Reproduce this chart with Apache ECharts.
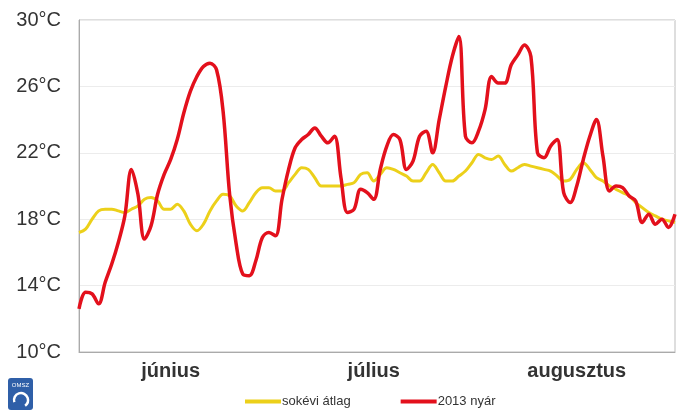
<!DOCTYPE html>
<html>
<head>
<meta charset="utf-8">
<script src="https://cdn.jsdelivr.net/npm/echarts@6/dist/echarts.min.js"></script>
<style>
  html, body { margin: 0; padding: 0; background: #fff; }
  #chart { width: 677px; height: 414px; }
</style>
</head>
<body>
<div id="chart"></div>
<script>
// napok: június 1 - augusztus 31 (92 nap)
var days = [];
for (var d = 0; d < 92; d++) days.push(String(d));

// hónapnevek a hónapok közepén
var monthLabels = { 14: 'június', 45: 'július', 76: 'augusztus' };

var yTicks = [10, 14, 18, 22, 26, 30];

// sokévi átlag
var avgTemp = [
  17.2, 17.4, 18.0, 18.5, 18.6, 18.6, 18.5, 18.4, 18.6, 18.8,
  19.2, 19.3, 19.1, 18.6, 18.6, 18.9, 18.5, 17.7, 17.3, 17.7,
  18.5, 19.1, 19.5, 19.4, 18.8, 18.5, 19.0, 19.6, 19.9, 19.9,
  19.7, 19.7, 20.2, 20.7, 21.1, 21.0, 20.5, 20.0, 20.0, 20.0,
  20.0, 20.1, 20.2, 20.7, 20.8, 20.3, 20.7, 21.1, 21.0, 20.8,
  20.6, 20.3, 20.3, 20.8, 21.3, 20.8, 20.3, 20.3, 20.6, 20.9,
  21.4, 21.9, 21.7, 21.6, 21.8, 21.3, 20.9, 21.1, 21.3, 21.2,
  21.1, 21.0, 20.9, 20.6, 20.3, 20.4, 21.0, 21.4, 21.0, 20.5,
  20.3, 20.0, 19.8, 19.6, 19.4, 19.0, 18.7, 18.4, 18.2, 18.0,
  17.9, 17.8
];

// 2013 nyár
var temp2013 = [
  12.6, 13.6, 13.5, 12.9, 14.2, 15.3, 16.6, 18.2, 21.0, 19.5,
  16.8, 17.6, 19.5, 20.7, 21.6, 22.8, 24.4, 25.7, 26.6, 27.2,
  27.4, 27.0, 24.5, 19.5, 16.5, 14.7, 14.6, 15.5, 16.9, 17.2,
  17.0, 19.2, 21.0, 22.3, 22.8, 23.1, 23.5, 23.0, 22.6, 23.0,
  20.5, 18.4, 18.6, 19.8, 19.6, 19.2, 21.0, 22.4, 23.1, 22.8,
  21.0, 21.5, 23.0, 23.3, 22.0, 24.0, 26.0, 27.8, 29.0, 23.0,
  22.6, 23.3, 24.6, 26.6, 26.2, 26.2, 27.3, 27.9, 28.5, 27.8,
  22.0, 21.7, 22.4, 22.8, 19.6, 19.0, 20.0, 21.6, 23.0, 24.0,
  21.8, 19.7, 20.0, 19.9, 19.4, 19.1, 17.8, 18.3, 17.7, 18.0,
  17.5, 18.3
];

var myChart = echarts.init(document.getElementById('chart'));

var option = {
  animation: false,
  backgroundColor: '#fff',
  grid: {
    left: 79, right: 2, top: 20, bottom: 62,
    show: true, borderColor: '#bdbdbd', borderWidth: 1
  },
  legend: {
    bottom: 1,
    left: 240,
    icon: 'rect',
    itemWidth: 36,
    itemHeight: 4,
    itemGap: 50,
    textStyle: { fontFamily: 'Liberation Sans', fontSize: 13, color: '#333', padding: [0, 0, 0, -4] },
    data: ['sokévi átlag', '2013 nyár']
  },
  xAxis: {
    type: 'category',
    data: days,
    boundaryGap: false,
    axisLine: { lineStyle: { color: '#aaa' } },
    axisTick: { show: false },
    axisLabel: {
      interval: function (i) { return monthLabels[i] !== undefined; },
      formatter: function (v, i) { return monthLabels[i] || ''; },
      fontFamily: 'Liberation Sans',
      fontWeight: 'bold',
      fontSize: 20,
      color: '#333',
      margin: 9
    }
  },
  yAxis: {
    type: 'value',
    min: yTicks[0],
    max: yTicks[yTicks.length - 1],
    interval: 4,
    axisLine: { show: true, lineStyle: { color: '#aaa' } },
    axisTick: { show: false },
    splitLine: { lineStyle: { color: '#ececec' } },
    axisLabel: {
      formatter: '{value}°C',
      fontFamily: 'Liberation Sans',
      fontSize: 20,
      color: '#333',
      margin: 18
    }
  },
  graphic: [{
    type: 'group', left: 8, top: 378,
    children: [
      { type: 'rect', shape: { x: 0, y: 0, width: 25, height: 32, r: 3 }, style: { fill: '#2f5fa8' } },
      { type: 'text', style: { x: 12.5, y: 4, text: 'OMSZ', fill: '#fff', fontSize: 6, align: 'center' } },
      { type: 'arc', shape: { cx: 13, cy: 22, r: 7, startAngle: Math.PI * 0.9, endAngle: Math.PI * 2.3 }, style: { stroke: '#fff', lineWidth: 2.5, fill: null } }
    ]
  }],
  series: [
    {
      name: 'sokévi átlag',
      type: 'line',
      data: avgTemp,
      smooth: 0.35,
      showSymbol: false,
      lineStyle: { color: '#ecd01a', width: 3 },
      itemStyle: { color: '#ecd01a' }
    },
    {
      name: '2013 nyár',
      type: 'line',
      data: temp2013,
      smooth: 0.35,
      showSymbol: false,
      lineStyle: { color: '#e3101c', width: 3.5 },
      itemStyle: { color: '#e3101c' }
    }
  ]
};

myChart.setOption(option);
window.onresize = function () { myChart.resize(); };
</script>
</body>
</html>
